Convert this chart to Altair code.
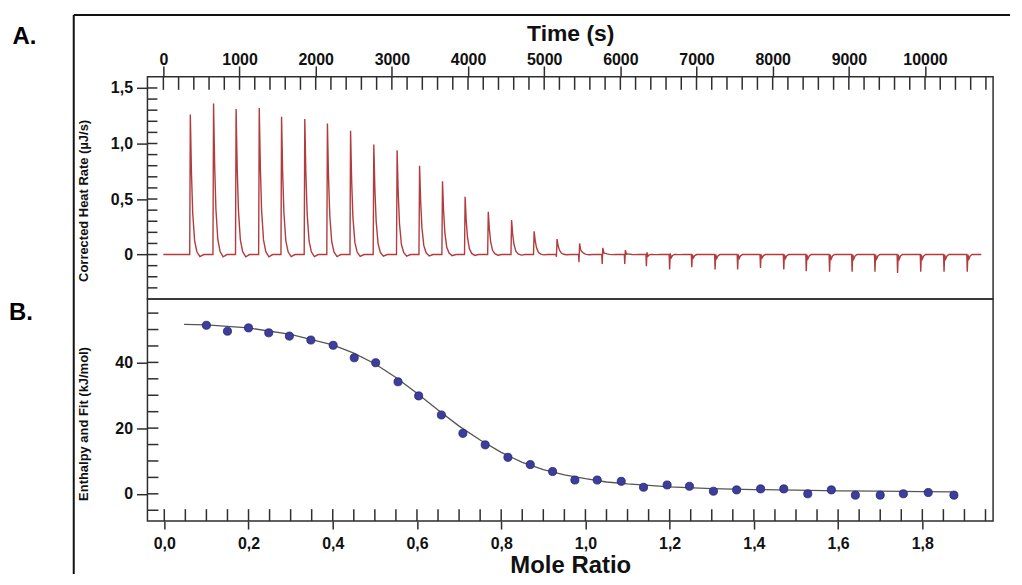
import altair as alt
import pandas as pd

# ---------------- Panel A: thermogram ----------------
inj_time = [340, 645, 941, 1245, 1538, 1843, 2140, 2444, 2749, 3055, 3350, 3651, 3948, 4252, 4558,
            4854, 5155, 5451, 5756, 6052, 6336, 6641, 6932, 7238, 7534, 7834, 8140, 8435, 8741,
            9037, 9337, 9634, 9938, 10244, 10549]
peak_height = [1.26, 1.36, 1.31, 1.32, 1.24, 1.22, 1.18, 1.115, 0.99, 0.94, 0.80, 0.66, 0.52, 0.385, 0.31,
               0.21, 0.14, 0.10, 0.06, 0.04, 0.02, 0.01, 0, 0, 0, 0, 0, 0, 0, 0, 0, 0, 0, 0, 0]
dip_depth = [0, 0, 0, 0, 0, 0, 0, 0, 0, 0, 0, 0, 0, 0, 0,
             0, -0.02, -0.07, -0.085, -0.085, -0.105, -0.135, -0.115, -0.135, -0.135, -0.12, -0.135,
             -0.15, -0.155, -0.155, -0.155, -0.165, -0.155, -0.155, -0.155]
trace_start = 0
trace_end = 10667
# shape of one injection event (seconds after injection, fraction of peak, fraction of dip)
shape_dt = [0, 6, 14, 28, 45, 70, 100, 140, 190]
shape_peak = [0, 0, 1.0, 0.6, 0.3, 0.1, 0.02, -0.015, 0]
shape_dip = [0, 1.0, 0, 0.25, 0.08, 0, 0, 0, 0]

# ---------------- Panel B: integrated heats and fit ----------------
mole_ratio = [0.100, 0.150, 0.200, 0.248, 0.297, 0.348, 0.401, 0.451, 0.502, 0.555, 0.604, 0.658,
              0.709, 0.762, 0.816, 0.869, 0.922, 0.975, 1.028, 1.085, 1.138, 1.194, 1.247, 1.304,
              1.359, 1.416, 1.471, 1.528, 1.584, 1.641, 1.700, 1.755, 1.814, 1.875]
enthalpy = [51.3, 49.5, 50.5, 49.0, 48.0, 46.8, 45.2, 41.4, 39.9, 34.1, 29.8, 24.0,
            18.4, 14.9, 11.1, 8.9, 6.8, 4.2, 4.2, 3.8, 2.0, 2.7, 2.3, 0.8,
            1.2, 1.5, 1.5, 0.0, 1.2, -0.4, -0.4, 0.0, 0.4, -0.4]
fit_ratio = [0.047, 0.1, 0.2, 0.3, 0.4, 0.45, 0.5, 0.55, 0.6, 0.65, 0.7, 0.75, 0.8, 0.85,
             0.9, 0.95, 1.0, 1.05, 1.1, 1.2, 1.3, 1.4, 1.5, 1.6, 1.7, 1.8, 1.87]
fit_enthalpy = [51.6, 51.4, 50.5, 48.5, 45.3, 42.8, 39.6, 35.4, 30.6, 25.5, 20.6, 16.4, 12.6, 9.6,
                7.4, 5.8, 4.6, 3.6, 3.0, 2.1, 1.6, 1.3, 1.1, 0.9, 0.8, 0.7, 0.6]

# ---------------- tick values ----------------
time_major = [0, 1000, 2000, 3000, 4000, 5000, 6000, 7000, 8000, 9000, 10000]
time_minor = list(range(0, 10801, 200))
rate_major = [0, 0.5, 1.0, 1.5]
rate_minor = [round(-0.3 + 0.1 * i, 1) for i in range(19)]
ratio_major = [0.0, 0.2, 0.4, 0.6, 0.8, 1.0, 1.2, 1.4, 1.6, 1.8]
ratio_minor = [round(0.05 * i, 2) for i in range(40)]
enth_major = [0, 20, 40]
enth_minor = [-5, 0, 5, 10, 15, 20, 25, 30, 35, 40, 45, 50, 55]

rows = [{"i": 0, "t": trace_start, "v": 0.0}]
for t0, h, d in zip(inj_time, peak_height, dip_depth):
    for dt, fp, fd in zip(shape_dt, shape_peak, shape_dip):
        rows.append({"i": len(rows), "t": t0 + dt, "v": h * fp + d * fd})
rows.append({"i": len(rows), "t": trace_end, "v": 0.0})
trace_df = pd.DataFrame(rows)

FONT = "Liberation Sans"
TICK = "#2e2e2e"
W, H1, H2 = 849, 223, 223
dummy = pd.DataFrame({"a": [0]})


def axis(**kw):
    base = dict(grid=False, domain=False, tickColor=TICK, tickWidth=1.5, labelFont=FONT,
                labelFontSize=16, labelFontWeight="bold", labelColor="#111", titleFont=FONT,
                titleFontWeight="bold", titleColor="#111", labelFlush=False)
    base.update(kw)
    return alt.Axis(**base)


xs_top = alt.Scale(domain=[-209, 10894], nice=False, zero=False)
ys_top = alt.Scale(domain=[-0.4, 1.6], nice=False, zero=False)
xs_bot = alt.Scale(domain=[-0.04, 1.968], nice=False, zero=False)
ys_bot = alt.Scale(domain=[-8.3, 59.3], nice=False, zero=False)

ax_time = axis(orient="top", values=time_major, format="d", tickSize=11, labelPadding=1,
               labelBaseline="alphabetic", title="Time (s)", titleFontSize=23,
               titleY=-37, titleBaseline="alphabetic")
ax_rate = axis(values=rate_major, tickSize=11, labelPadding=4,
               labelExpr="datum.value == 0 ? '0' : replace(format(datum.value, '.1f'), '.', ',')",
               title="Corrected Heat Rate (µJ/s)", titleFontSize=13, titleX=-64, titleY=124,
               titleAngle=270, titleBaseline="middle", titleAlign="center")
ax_ratio = axis(values=ratio_major, tickSize=8, labelPadding=7,
                labelExpr="replace(format(datum.value, '.1f'), '.', ',')",
                title="Mole Ratio", titleFontSize=24, titleY=52, titleBaseline="alphabetic")
ax_enth = axis(values=enth_major, format="d", tickSize=11, labelPadding=4,
               title="Enthalpy and Fit (kJ/mol)", titleFontSize=13, titleX=-64, titleY=125,
               titleAngle=270, titleBaseline="middle", titleAlign="center")

trace = alt.Chart(trace_df).mark_line(color="#b23b3e", strokeWidth=1.4).encode(
    x=alt.X("t:Q", scale=xs_top, axis=ax_time),
    y=alt.Y("v:Q", scale=ys_top, axis=ax_rate),
    order=alt.Order("i:Q"),
)
top_x_in = alt.Chart(pd.DataFrame({"t": time_minor})).mark_rule(color=TICK, strokeWidth=1.5).encode(
    x=alt.X("t:Q", scale=xs_top, axis=ax_time), y=alt.value(0), y2=alt.value(13))
top_y_in = alt.Chart(pd.DataFrame({"v": rate_minor})).mark_rule(color=TICK, strokeWidth=1.5).encode(
    y=alt.Y("v:Q", scale=ys_top, axis=ax_rate), x=alt.value(0), x2=alt.value(10))
frame_top = alt.Chart(dummy).mark_rule(color="#111", strokeWidth=2).encode(
    x=alt.value(-74), x2=alt.value(866), y=alt.value(-62))
frame_left_top = alt.Chart(dummy).mark_rule(color="#111", strokeWidth=2).encode(
    x=alt.value(-74), y=alt.value(-62), y2=alt.value(H1))
label_a = alt.Chart(dummy).mark_text(text="A.", align="left", baseline="middle", font=FONT,
                                     fontSize=24, fontWeight="bold", color="#000").encode(
    x=alt.value(-135.6), y=alt.value(-40))

top = alt.layer(trace, top_x_in, top_y_in, frame_top, frame_left_top, label_a).properties(
    width=W, height=H1)

fit_df = pd.DataFrame({"r": fit_ratio, "e": fit_enthalpy})
pts_df = pd.DataFrame({"r": mole_ratio, "e": enthalpy})

fit = alt.Chart(fit_df).mark_line(color="#555555", strokeWidth=1.3).encode(
    x=alt.X("r:Q", scale=xs_bot, axis=ax_ratio),
    y=alt.Y("e:Q", scale=ys_bot, axis=ax_enth),
)
pts = alt.Chart(pts_df).mark_circle(size=66, color="#3d3d9e", opacity=1, stroke="#25256e",
                                    strokeWidth=0.8).encode(
    x=alt.X("r:Q", scale=xs_bot, axis=ax_ratio), y=alt.Y("e:Q", scale=ys_bot, axis=ax_enth))
bot_x_in = alt.Chart(pd.DataFrame({"r": ratio_minor})).mark_rule(color=TICK, strokeWidth=1.5).encode(
    x=alt.X("r:Q", scale=xs_bot, axis=ax_ratio), y=alt.value(H2), y2=alt.value(H2 - 12))
bot_y_in = alt.Chart(pd.DataFrame({"e": enth_minor})).mark_rule(color=TICK, strokeWidth=1.5).encode(
    y=alt.Y("e:Q", scale=ys_bot, axis=ax_enth), x=alt.value(0), x2=alt.value(11))
frame_left_bot = alt.Chart(dummy).mark_rule(color="#111", strokeWidth=2).encode(
    x=alt.value(-74), y=alt.value(0), y2=alt.value(276))
label_b = alt.Chart(dummy).mark_text(text="B.", align="left", baseline="middle", font=FONT,
                                     fontSize=24, fontWeight="bold", color="#000").encode(
    x=alt.value(-139), y=alt.value(14))

bottom = alt.layer(fit, pts, bot_x_in, bot_y_in, frame_left_bot, label_b).properties(
    width=W, height=H2)

chart = alt.vconcat(top, bottom, spacing=0, bounds="flush").configure_view(
    stroke=TICK, strokeWidth=1.5).properties(
    padding={"left": 0, "top": 4, "right": 2, "bottom": 0})

chart.save("out.html", embed_options={"renderer": "svg", "actions": False})
